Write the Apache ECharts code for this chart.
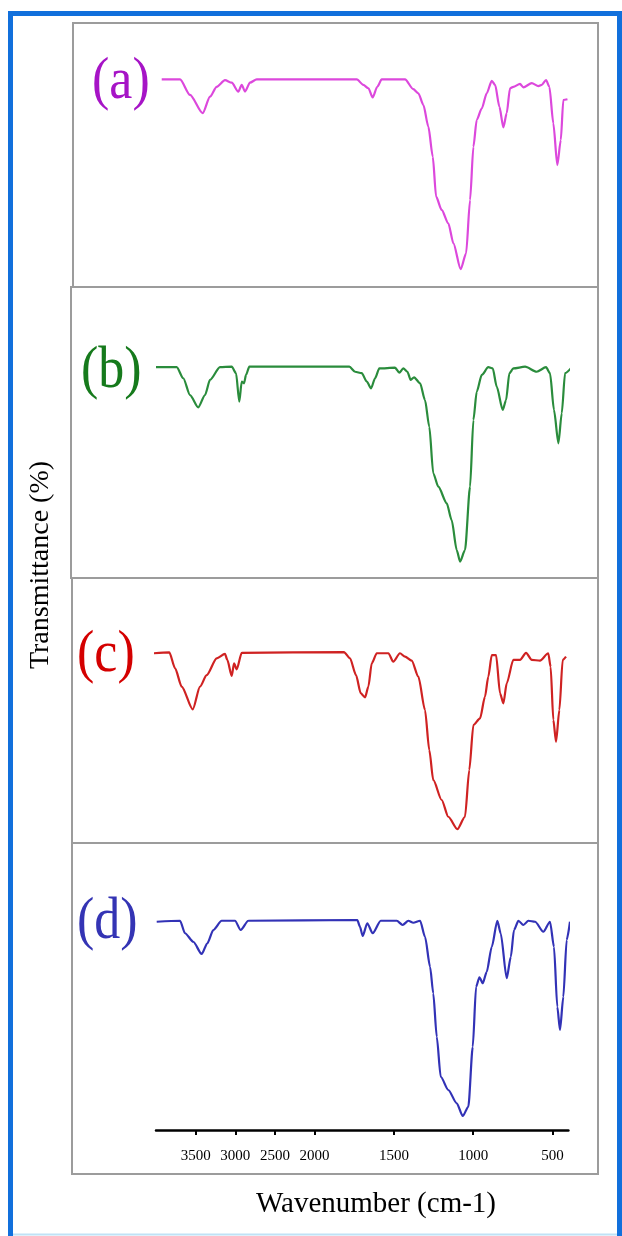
<!DOCTYPE html>
<html>
<head>
<meta charset="utf-8">
<script src="https://cdn.jsdelivr.net/npm/echarts@6.0.0/dist/echarts.min.js"></script>
<style>
html,body{margin:0;padding:0;background:#fff;}
#chart{width:622px;height:1236px;}
</style>
</head>
<body>
<div id="chart"></div>
<script>
// ---- data (wavenumber in cm-1, transmittance in relative %) ----
const tickLabels = [3500, 3000, 2500, 2000, 1500, 1000, 500];
const panelLabels = ['(a)', '(b)', '(c)', '(d)'];

const wnA = [3928,3697,3571,3411,3319,3235,3130,3045,2962,2919,2878,2815,2730,1734,1693,1661,1634,1605,1577,1430,1378,1346,1314,1283,1255,1234,1199,1157,1125,1079,1045,1020,999,978,946,915,883,862,835,810,789,768,747,705,684,631,589,568,541,520,495,470,448,432,406];
const trA = [83.6,83.6,77.1,69.5,76.4,80.5,83.3,82.2,78.5,81.3,78.5,82.2,83.6,83.6,81.3,79.9,76.1,80.5,83.6,83.6,79.5,77.8,72.9,63.9,51.4,34.7,29.2,23.6,15.3,4.5,11.1,33.3,55.5,66.7,71.5,77.8,83.0,81.3,72.2,63.6,69.5,79.9,80.5,81.7,80.3,82.0,80.8,81.3,83.3,80.5,65.3,47.9,58.3,75.0,75.3];

const wnB = [4000,3739,3656,3571,3467,3382,3319,3193,3045,2991,2950,2919,2890,2865,2823,1781,1745,1703,1671,1644,1619,1592,1493,1466,1441,1415,1394,1373,1335,1304,1277,1252,1220,1167,1136,1104,1083,1052,1020,999,978,946,905,877,852,814,793,772,747,673,600,541,516,491,463,442,421,385];
const trB = [84.5,84.5,79.9,72.9,67.8,72.9,79.2,84.5,84.7,82.0,70.1,78.5,77.8,81.3,84.7,84.7,82.6,82.0,78.5,75.7,79.9,84.0,84.3,82.2,84.0,82.6,79.2,80.3,77.8,70.8,59.7,40.3,34.7,27.8,20.8,8.3,3.5,8.3,34.7,62.5,74.3,81.3,84.5,84.0,76.4,66.7,70.8,82.0,84.0,84.7,82.6,84.5,82.0,66.7,52.8,65.3,82.0,84.0];

const wnC = [4117,3832,3760,3676,3537,3445,3361,3235,3130,3101,3045,3016,2982,2919,1815,1777,1739,1709,1682,1661,1640,1608,1535,1504,1462,1430,1388,1346,1304,1277,1252,1199,1157,1100,1052,1025,999,957,926,905,883,856,831,810,789,747,705,667,631,579,527,512,495,478,457,436,415];
const trC = [80.9,81.6,74.7,66.7,56.8,66.7,71.7,79.0,80.9,78.3,71.3,76.8,74.2,81.4,81.7,79.0,71.7,63.8,62.0,66.7,76.8,81.2,81.2,77.5,81.2,79.7,78.0,71.0,56.5,39.1,26.1,17.4,10.1,4.7,10.1,30.4,50.0,52.9,62.3,71.0,80.4,80.4,63.8,59.4,68.1,78.3,78.3,81.4,78.3,78.0,81.2,75.3,52.2,42.7,56.5,78.3,79.7];

const wnD = [3991,3697,3634,3530,3424,3353,3277,3172,3004,2932,2836,1731,1714,1697,1668,1634,1583,1482,1445,1409,1378,1335,1304,1272,1252,1230,1205,1157,1104,1066,1031,1003,982,961,940,915,883,848,827,789,763,743,715,684,652,610,558,516,491,470,453,432,411,390];
const trD = [83.3,83.7,78.7,75.3,70.4,74.7,80.0,83.7,83.7,80.0,83.7,84.0,81.3,77.6,82.7,78.7,83.7,83.7,82.0,83.7,82.9,83.7,77.3,65.3,54.7,37.3,21.3,16.0,10.7,5.6,9.3,33.3,57.3,61.1,58.7,63.3,73.3,83.7,78.7,60.7,69.3,80.0,83.7,82.0,83.7,83.3,79.3,83.3,73.3,49.3,40.0,53.3,76.0,83.3];

// ---- broken wavenumber axis: 4000-2000 compressed, 2000-400 expanded x2 ----
function toAxis(w){ return w >= 2000 ? 4000 - w : 2000 + 2 * (2000 - w); }
function fromAxis(v){ return v <= 2000 ? 4000 - v : 2000 - (v - 2000) / 2; }

const panels = [
  {wn: wnA, tr: trA, color: '#dc48dc', labelColor: '#a614c6', top: 40, height: 240, lx: 92, ly: 83},
  {wn: wnB, tr: trB, color: '#2a8c3c', labelColor: '#167a1c', top: 330, height: 240, lx: 81, ly: 372},
  {wn: wnC, tr: trC, color: '#cf2222', labelColor: '#d40000', top: 610, height: 230, lx: 77, ly: 656},
  {wn: wnD, tr: trD, color: '#3232b6', labelColor: '#3434b4', top: 880, height: 250, lx: 77, ly: 923}
];

const tickVals = tickLabels.map(toAxis);
const serif = '"Liberation Serif", "Times New Roman", serif';

const grids = panels.map(p => ({left: 156, width: 412.4, top: p.top, height: p.height}));
const xAxes = panels.map((p, i) => {
  const last = i === panels.length - 1;
  return {
    type: 'value', gridIndex: i, min: 0, max: 5200, show: last, offset: 7,
    axisLine: {show: last, lineStyle: {color: '#000', width: 2.5}},
    axisTick: {show: last, customValues: tickVals, length: 5, lineStyle: {color: '#000', width: 2}},
    axisLabel: {show: last, customValues: tickVals, margin: 12, color: '#000', fontSize: 15, fontFamily: serif,
      formatter: v => String(Math.round(fromAxis(v)))},
    splitLine: {show: false}
  };
});
const yAxes = panels.map((p, i) => ({type: 'value', gridIndex: i, min: 0, max: 100, show: false, splitLine: {show: false}}));
const series = panels.map((p, i) => ({
  type: 'line', xAxisIndex: i, yAxisIndex: i, showSymbol: false, clip: false,
  smooth: 0.25, smoothMonotone: 'x', silent: true,
  lineStyle: {color: p.color, width: 2.2},
  data: p.wn.map((w, k) => [toAxis(w), p.tr[k]])
}));

function txt(opt){
  const s = Object.assign({fill: '#000', font: '28px ' + serif, textAlign: 'center', textVerticalAlign: 'middle', align: 'center', verticalAlign: 'middle'}, opt.style);
  return Object.assign({type: 'text', silent: true}, opt, {style: s});
}

const graphic = [
  // outer blue frame
  {type: 'polyline', silent: true, shape: {points: [[10.5, 1236], [10.5, 13.5], [619.5, 13.5], [619.5, 1236]]}, style: {stroke: '#1170dc', lineWidth: 5, fill: null}},
  {type: 'line', silent: true, shape: {x1: 13, y1: 1234.5, x2: 617, y2: 1234.5}, style: {stroke: '#bfe2f6', lineWidth: 2}},
  // panel boxes
  {type: 'rect', silent: true, shape: {x: 73, y: 23, width: 525, height: 264}, style: {stroke: '#9c9c9c', lineWidth: 2, fill: null}},
  {type: 'rect', silent: true, shape: {x: 71, y: 287, width: 527, height: 291}, style: {stroke: '#9c9c9c', lineWidth: 2, fill: null}},
  {type: 'rect', silent: true, shape: {x: 72, y: 578, width: 526, height: 265}, style: {stroke: '#9c9c9c', lineWidth: 2, fill: null}},
  {type: 'rect', silent: true, shape: {x: 72, y: 843, width: 526, height: 331}, style: {stroke: '#9c9c9c', lineWidth: 2, fill: null}},
  // axis titles
  txt({x: 41, y: 565, rotation: Math.PI / 2, style: {text: 'Transmittance (%)', font: '28px ' + serif}}),
  txt({x: 376, y: 1204, style: {text: 'Wavenumber (cm-1)', font: '29px ' + serif}})
];
panels.forEach((p, i) => {
  graphic.push(txt({x: p.lx, y: p.ly, scaleY: 1.12, style: {text: panelLabels[i], font: '52px ' + serif, fill: p.labelColor, textAlign: 'left', align: 'left'}}));
});

const chart = echarts.init(document.getElementById('chart'), null, {renderer: 'canvas'});
chart.setOption({
  animation: false,
  backgroundColor: '#ffffff',
  grid: grids, xAxis: xAxes, yAxis: yAxes, series: series,
  graphic: graphic
});
</script>
</body>
</html>
